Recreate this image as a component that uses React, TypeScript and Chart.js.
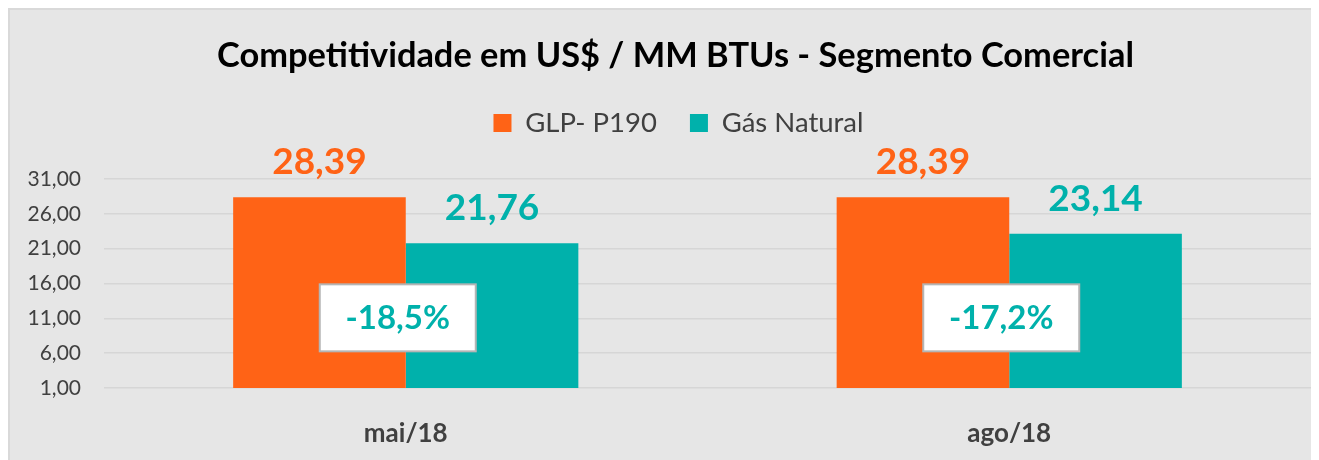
import React, { useEffect, useRef } from "react";
import { Chart, registerables } from "chart.js";

Chart.register(...registerables);

const categories = ["mai/18", "ago/18"];
const glpValues = [28.39, 28.39];
const gasValues = [21.76, 23.14];
const diffLabels = ["-18,5%", "-17,2%"];
const yTicks = [1, 6, 11, 16, 21, 26, 31];
const seriesNames = ["GLP- P190", "Gás Natural"];

const ORANGE = "#ff6316";
const TEAL = "#00b1ab";
const FONT = "Lato, 'Open Sans', sans-serif";

const fmt = (v: number) => v.toFixed(2).replace(".", ",");

// shift title and legend blocks horizontally to match the reference centering
const shiftPlugin = {
  id: "shiftHeader",
  afterLayout(chart: any) {
    const t = chart.titleBlock;
    if (t) {
      t.left += 15;
      t.right += 15;
    }
    const l = chart.legend;
    if (l) {
      l.left += 18;
      l.right += 18;
      if (l.adjustHitBoxes) l.adjustHitBoxes();
    }
  },
};

const labelsPlugin = {
  id: "barLabels",
  afterDatasetsDraw(chart: any) {
    const ctx = chart.ctx;
    ctx.save();
    chart.data.datasets.forEach((ds: any, di: number) => {
      const meta = chart.getDatasetMeta(di);
      meta.data.forEach((bar: any, i: number) => {
        ctx.fillStyle = ds.backgroundColor;
        ctx.font = `bold 37px ${FONT}`;
        ctx.textAlign = "center";
        ctx.textBaseline = "alphabetic";
        ctx.fillText(fmt(ds.data[i]), bar.x, bar.y - 23);
      });
    });
    // difference boxes
    const xs = chart.scales.x;
    const ys = chart.scales.y;
    diffLabels.forEach((txt, i) => {
      const cx = xs.getPixelForValue(i) - 8;
      const cy = ys.getPixelForValue(11.07);
      const w = 156;
      const h = 67;
      ctx.fillStyle = "#ffffff";
      ctx.fillRect(cx - w / 2, cy - h / 2, w, h);
      ctx.strokeStyle = "#b5b5b5";
      ctx.lineWidth = 2;
      ctx.strokeRect(cx - w / 2, cy - h / 2, w, h);
      ctx.fillStyle = TEAL;
      ctx.font = `bold 33px ${FONT}`;
      ctx.textAlign = "center";
      ctx.textBaseline = "middle";
      ctx.fillText(txt, cx, cy + 1);
    });
    ctx.restore();
  },
};

export default function App() {
  const ref = useRef<HTMLCanvasElement | null>(null);
  useEffect(() => {
    if (!ref.current) return;
    const chart = new Chart(ref.current, {
      type: "bar",
      data: {
        labels: categories,
        datasets: [
          {
            label: seriesNames[0],
            data: glpValues,
            backgroundColor: ORANGE,
            categoryPercentage: 0.572,
            barPercentage: 1,
          },
          {
            label: seriesNames[1],
            data: gasValues,
            backgroundColor: TEAL,
            categoryPercentage: 0.572,
            barPercentage: 1,
          },
        ],
      },
      options: {
        animation: false,
        responsive: false,
        layout: { padding: { top: 0, left: 0, right: 8, bottom: 0 } },
        plugins: {
          title: {
            display: true,
            text: "Competitividade em US$ / MM BTUs - Segmento Comercial",
            color: "#000000",
            font: { family: FONT, size: 34.4, weight: "bold" },
            padding: { top: 25, bottom: 0 },
          },
          subtitle: {
            display: true,
            text: "",
            weight: 500,
            font: { size: 1 },
            padding: { top: 0, bottom: 31 },
          },
          legend: {
            display: true,
            position: "top",
            labels: {
              color: "#404040",
              font: { family: FONT, size: 27.5 },
              boxWidth: 18,
              boxHeight: 18,
              padding: 33,
            },
          },
          tooltip: { enabled: false },
        },
        scales: {
          x: {
            grid: { display: false, drawTicks: false },
            border: { display: false },
            ticks: {
              color: "#404040",
              font: { family: FONT, size: 26, weight: "bold" },
              padding: 30,
            },
            afterFit(scale: any) {
              scale.height = 72;
            },
          },
          y: {
            min: 1,
            max: 31,
            grid: { color: "#d6d6d6", lineWidth: 1.5, drawTicks: false },
            border: { display: false },
            afterBuildTicks(scale: any) {
              scale.ticks = yTicks.map((v) => ({ value: v }));
            },
            ticks: {
              color: "#404040",
              font: { family: FONT, size: 21 },
              padding: 23,
              callback: (v: any) => fmt(Number(v)),
            },
            afterFit(scale: any) {
              scale.width = 94;
            },
          },
        },
      },
      plugins: [shiftPlugin, labelsPlugin],
    });
    return () => chart.destroy();
  }, []);
  return (
    <div
      style={{
        width: 1311,
        height: 452,
        background: "#e6e6e6",
        borderLeft: "2px solid #d9d9d9",
        borderTop: "2px solid #d9d9d9",
        boxSizing: "border-box",
      }}
    >
      <canvas ref={ref} width={1309} height={450} style={{ display: "block" }} />
    </div>
  );
}
